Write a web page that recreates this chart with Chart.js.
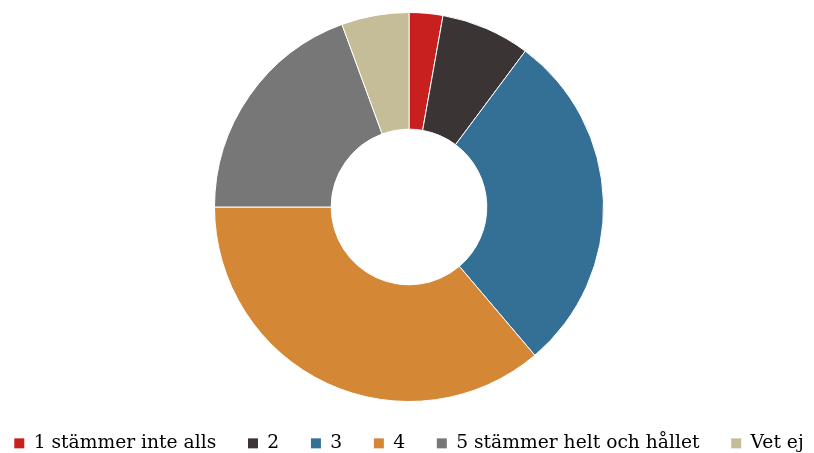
<!DOCTYPE html>
<html>
<head>
<meta charset="utf-8">
<script src="https://cdn.jsdelivr.net/npm/chart.js@4/dist/chart.umd.min.js"></script>
<style>
html,body{margin:0;padding:0;background:#fff;}
#wrap{width:814px;height:453px;position:relative;}
</style>
</head>
<body>
<div id="wrap"><canvas id="c" width="814" height="453"></canvas></div>
<script>
const categories = ["1 stämmer inte alls", "2", "3", "4", "5 stämmer helt och hållet", "Vet ej"];
const values = [2.8, 7.4, 28.6, 36.2, 19.4, 5.6];
const colors = ["#C8201F", "#3A3435", "#346F96", "#D48835", "#777777", "#C5BC98"];

const GAP = "     "; // spacing after legend labels

const legendHeight = {
  id: 'legendHeight',
  beforeInit(chart) {
    const lg = chart.legend;
    const origFit = lg.fit.bind(lg);
    lg.fit = function () { origFit(); this.height = 51; };
  }
};

new Chart(document.getElementById('c'), {
  type: 'doughnut',
  data: {
    labels: categories,
    datasets: [{
      data: values,
      backgroundColor: colors,
      borderColor: '#ffffff',
      borderWidth: 1
    }]
  },
  options: {
    responsive: false,
    animation: false,
    cutout: '40%',
    layout: { padding: { top: 12, left: 4, right: 0, bottom: 0 } },
    plugins: {
      tooltip: { enabled: false },
      legend: {
        position: 'bottom',
        title: { display: true, text: ' ', font: { size: 10 }, padding: { top: 18, bottom: 0 } },
        labels: {
          font: { family: "'DejaVu Serif', 'Liberation Serif', serif", size: 18.7 },
          color: '#000000',
          boxWidth: 10,
          boxHeight: 10,
          padding: 2,
          generateLabels(chart) {
            const items = Chart.overrides.doughnut.plugins.legend.labels.generateLabels(chart);
            items.forEach((it, i) => {
              it.lineWidth = 0;
              if (i < items.length - 1) it.text = it.text + GAP;
            });
            return items;
          }
        }
      }
    }
  },
  plugins: [legendHeight]
});
</script>
</body>
</html>
